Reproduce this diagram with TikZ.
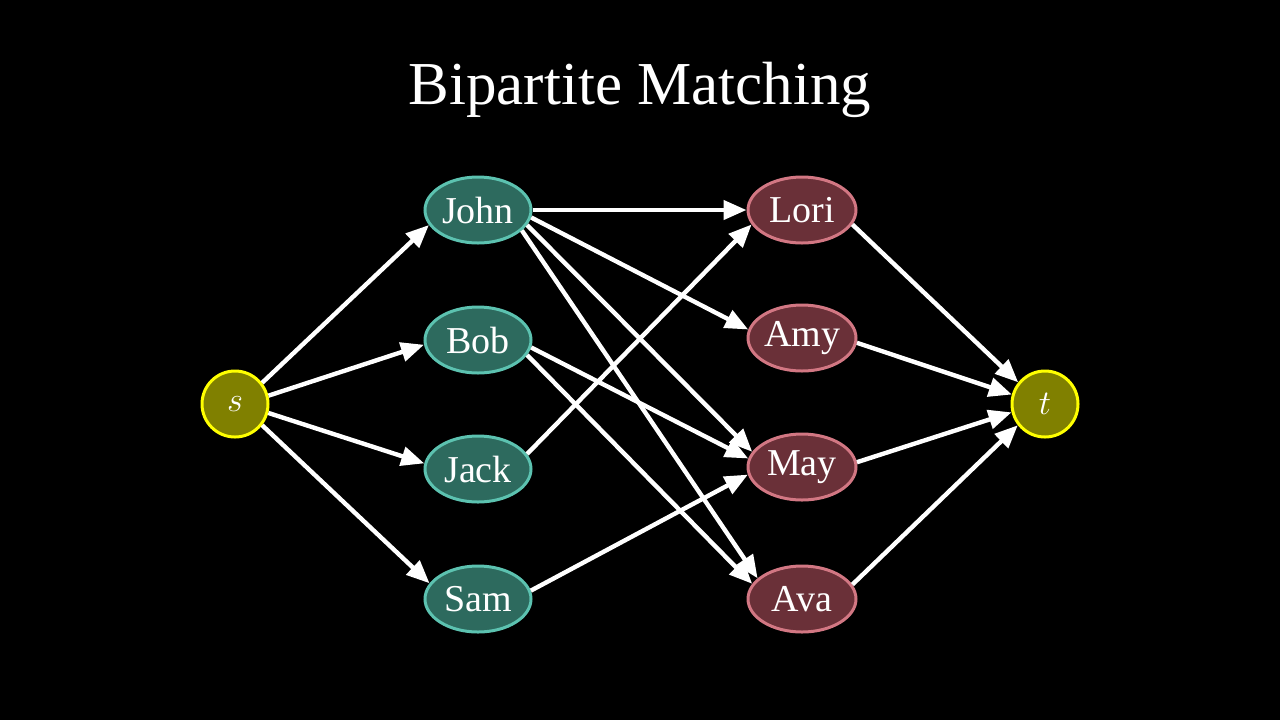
\documentclass[tikz,border=0pt]{standalone}
\usepackage{fontspec}
\setmainfont{Liberation Serif}
\usetikzlibrary{shapes.geometric,arrows.meta}
\definecolor{tealfill}{HTML}{2D6A5E}
\definecolor{tealline}{HTML}{5CC2B0}
\definecolor{redfill}{HTML}{6A3038}
\definecolor{redline}{HTML}{D27783}
\definecolor{olivefill}{HTML}{808000}
\definecolor{yellowline}{HTML}{FFFF00}
\tikzset{
  leftnode/.style={ellipse, draw=tealline, fill=tealfill, line width=1.5pt, minimum width=53pt, minimum height=33pt, inner sep=0pt, text=white, font=\fontsize{19}{22}\selectfont},
  rightnode/.style={ellipse, draw=redline, fill=redfill, line width=1.5pt, minimum width=54pt, minimum height=33pt, inner sep=0pt, text=white, font=\fontsize{19}{22}\selectfont},
  endnode/.style={circle, draw=yellowline, fill=olivefill, line width=1.5pt, minimum size=33pt, inner sep=0pt, text=white, font=\fontsize{19}{22}\selectfont},
  edge/.style={draw=white, line width=2.2pt, -{Triangle[length=11.5pt,width=9.5pt]}}
}
\begin{document}
\begin{tikzpicture}[x=0.5pt,y=-0.5pt]
\fill[black] (0,0) rectangle (1280,720);
\useasboundingbox (0,0) rectangle (1280,720);
\node[text=white, font=\fontsize{30.5}{36}\selectfont] (title) at (640,90) {Bipartite Matching};
\node[endnode] (s) at (235,404) {$s$};
\node[endnode] (t) at (1045,404) {$t$};
\node[leftnode] (john) at (478,210) {John};
\node[leftnode] (bob) at (478,340) {Bob};
\node[leftnode] (jack) at (478,469) {Jack};
\node[leftnode] (sam) at (478,599) {Sam};
\node[rightnode] (lori) at (802,210) {Lori};
\node[rightnode] (amy) at (802,338) {Amy};
\node[rightnode] (may) at (802,467) {May};
\node[rightnode] (ava) at (802,599) {Ava};
\draw[edge] (s.38.6) -- (john.197.2);
\draw[edge] (s.14.8) -- (bob.185.8);
\draw[edge] (s.-15) -- (jack.174.1);
\draw[edge] (s.-38.7) -- (sam.162.7);
\draw[edge] (john.0) -- (lori.180);
\draw[edge] (john.-8.7) -- (amy.171.6);
\draw[edge] (john.-17.1) -- (may.163.5);
\draw[edge] (john.-25) -- (ava.155.8);
\draw[edge] (bob.-8.6) -- (may.171.7);
\draw[edge] (bob.-17.2) -- (ava.163.4);
\draw[edge] (jack.17.2) -- (lori.196.6);
\draw[edge] (sam.9) -- (may.188.7);
\draw[edge] (lori.-16.6) -- (t.141.4);
\draw[edge] (amy.-5.8) -- (t.164.8);
\draw[edge] (may.5.5) -- (t.194.5);
\draw[edge] (ava.16.7) -- (t.218.7);
\end{tikzpicture}
\end{document}
